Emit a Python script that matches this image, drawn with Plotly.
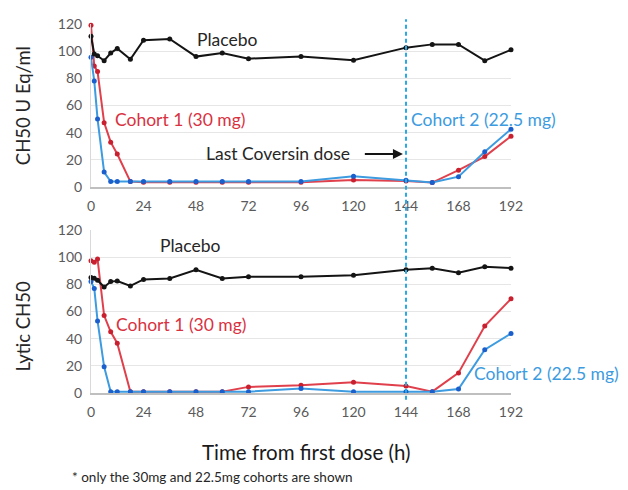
import plotly.graph_objects as go

# ---------------- data ----------------
time_h = [0, 1.5, 3, 6, 9, 12, 18, 24, 36, 48, 60, 72, 96, 120, 144, 156, 168, 180, 192]

# Top panel: CH50 U Eq/ml
top_placebo = [111, 98, 96.6, 93, 98.6, 102, 94, 108, 109, 96, 98.6, 94.5, 96, 93.3, 102.6, 105, 105, 93, 101]
top_cohort1 = [119, 89, 85, 47.4, 33, 24.3, 4, 3.5, 3.5, 3.5, 3.5, 3.5, 3.5, 5.2, 4.5, 3.3, 12.4, 22.4, 37.4]
top_cohort2 = [95.5, 78, 50, 11, 4, 4, 4, 4, 4, 4, 4, 4, 4, 8, 5, 3.3, 7.6, 26, 42.6]

# Bottom panel: Lytic CH50
bot_placebo = [85, 84.5, 83, 78, 82, 82.4, 78.8, 83.6, 84.3, 90.7, 84.3, 85.5, 85.5, 86.7, 90.7, 91.9, 88.6, 93, 91.9]
bot_cohort1 = [97.4, 96.2, 98.6, 57, 45, 36.7, 1, 1, 1, 1, 1, 4.5, 5.7, 8, 5.2, 1, 14.8, 49.3, 69.3]
bot_cohort2 = [82, 77, 53, 19.3, 1, 1, 1, 1, 1, 1, 1, 1, 3.3, 1, 1, 1, 2.9, 31.9, 43.8]

x_ticks = [0, 24, 48, 72, 96, 120, 144, 168, 192]
y_ticks = [0, 20, 40, 60, 80, 100, 120]
last_dose_h = 144

# ---------------- styles ----------------
FONT = "Lato"
RED_LINE, RED_MK = "#e0404c", "#c8202f"
BLUE_LINE, BLUE_MK = "#3d9be0", "#1a5fcc"
BLACK = "#141414"
CYAN = "#29abe2"
TICK_COL = "#5a5a5a"
TXT_SIZE = 17.5

fig = go.Figure()

def add_series(xs, ys, lc, mc, xa, ya):
    fig.add_trace(go.Scatter(
        x=xs, y=ys, mode="lines+markers", xaxis=xa, yaxis=ya,
        line=dict(color=lc, width=2), marker=dict(color=mc, size=5),
        cliponaxis=False, showlegend=False, hoverinfo="skip"))

add_series(time_h, top_cohort1, RED_LINE, RED_MK, "x", "y")
add_series(time_h, top_cohort2, BLUE_LINE, BLUE_MK, "x", "y")
add_series(time_h, top_placebo, BLACK, BLACK, "x", "y")
add_series(time_h, bot_cohort1, RED_LINE, RED_MK, "x2", "y2")
add_series(time_h, bot_cohort2, BLUE_LINE, BLUE_MK, "x2", "y2")
add_series(time_h, bot_placebo, BLACK, BLACK, "x2", "y2")

xcommon = dict(range=[0, 192], tickvals=x_ticks, showgrid=False, zeroline=False,
               showline=True, linecolor="#bfbfbf", linewidth=1.5, ticks="",
               tickfont=dict(family=FONT, size=14, color=TICK_COL), ticklabelstandoff=5)
ycommon = dict(range=[0, 120], tickvals=y_ticks, showgrid=True, gridcolor="#e6e6e6",
               gridwidth=1, zeroline=False, showline=True, linecolor="#d9d9d9",
               ticks="", tickfont=dict(family=FONT, size=14, color=TICK_COL), ticklabelstandoff=5)

# figure placed by the browser with an 8px body margin; sized so it ends at the window edge
fig.update_layout(
    width=620, height=482,
    margin=dict(l=83, r=117, t=7, b=97),
    paper_bgcolor="white", plot_bgcolor="white",
    xaxis=dict(domain=[0, 1], anchor="y", **xcommon),
    yaxis=dict(domain=[0.5582, 1], anchor="x", **ycommon),
    xaxis2=dict(domain=[0, 1], anchor="y2", **xcommon),
    yaxis2=dict(domain=[0, 0.4418], anchor="x2", **ycommon),
    font=dict(family=FONT),
)

# dashed vertical line marking the last dose
fig.add_shape(type="line", xref="x", yref="paper", x0=last_dose_h, x1=last_dose_h,
              y0=-0.0185, y1=1.013, line=dict(color=CYAN, width=2, dash="4px,3px"))

def txt(text, x, y, color, xa="x", ya="y", size=TXT_SIZE, xanchor="center"):
    fig.add_annotation(text=text, x=x, y=y, xref=xa, yref=ya, showarrow=False,
                       font=dict(family=FONT, size=size, color=color),
                       xanchor=xanchor, yanchor="middle")

# top panel labels
txt("Placebo", 62.2, 108.5, "#262626")
txt("Cohort 1 (30 mg)", 40.7, 49.6, "#d9323f")
txt("Cohort 2 (22.5 mg)", 145.4, 49.6, "#3d9be0", xanchor="left")
txt("Last Coversin dose", 85.5, 24.4, "#262626")
fig.add_annotation(x=142.6, y=24.4, ax=124.5, ay=24.4, xref="x", yref="y", axref="x", ayref="y",
                   text="", showarrow=True, arrowhead=2, arrowsize=1, arrowwidth=2,
                   arrowcolor="#141414")

# bottom panel labels
txt("Placebo", 45.7, 108.5, "#262626", "x2", "y2")
txt("Cohort 1 (30 mg)", 41.3, 50.3, "#d9323f", "x2", "y2")
txt("Cohort 2 (22.5 mg)", 174.2, 14.4, "#3d9be0", "x2", "y2", xanchor="left")

# axis titles
def ptxt(text, x, y, size, angle=0, xanchor="center", color="#262626"):
    fig.add_annotation(text=text, xref="paper", yref="paper", x=x, y=y, textangle=angle,
                       showarrow=False, xanchor=xanchor, yanchor="middle",
                       font=dict(family=FONT, size=size, color=color))

ptxt("CH50 U Eq/ml", -0.162, 0.780, 18.5, angle=-90)
ptxt("Lytic CH50", -0.162, 0.180, 18.5, angle=-90)
ptxt("Time from first dose (h)", 0.512, -0.1587, 20.5, color="#1a1a1a")
ptxt("* only the 30mg and 22.5mg cohorts are shown", -0.05, -0.2275, 13.5, xanchor="left")

fig.write_html("out.html")
